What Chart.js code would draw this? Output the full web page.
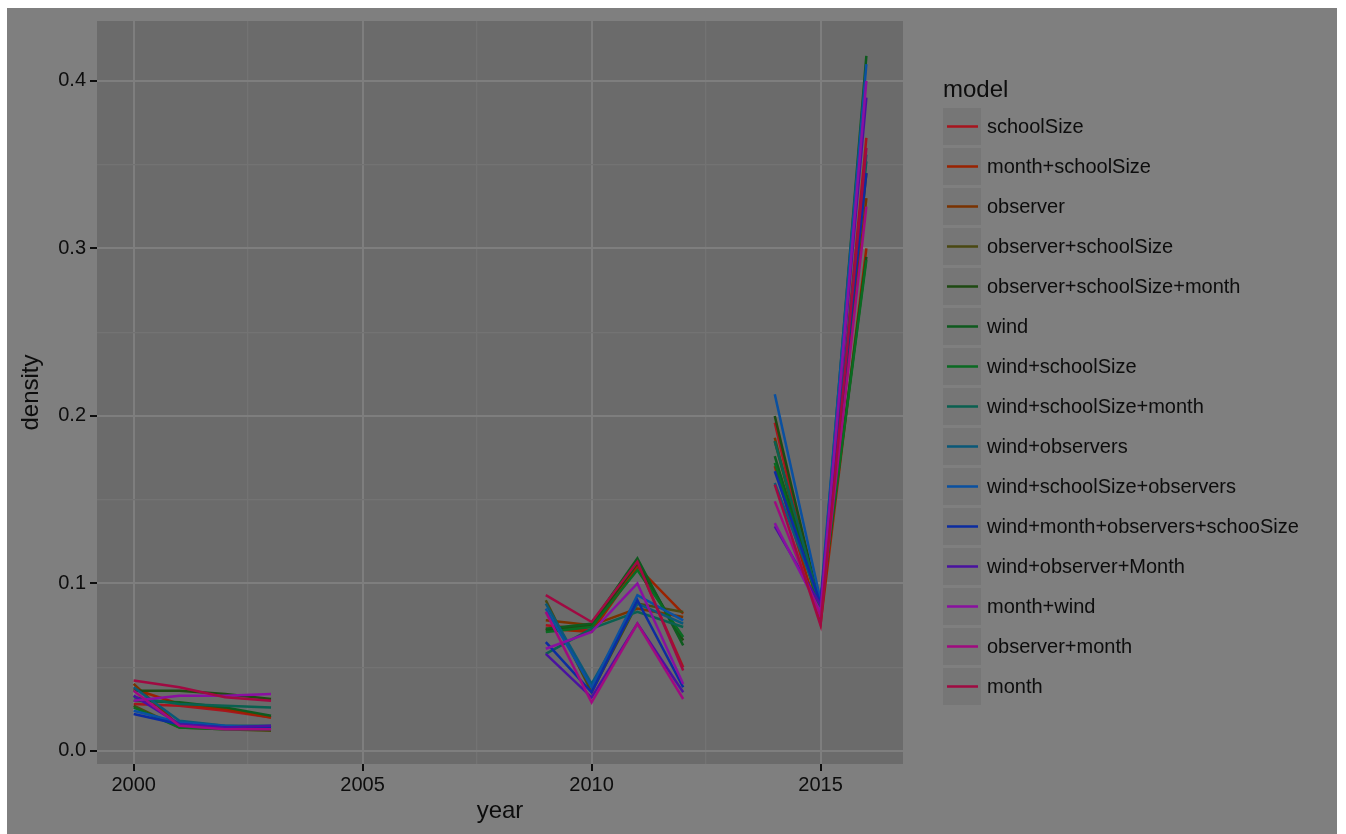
<!DOCTYPE html>
<html>
<head>
<meta charset="utf-8">
<script src="https://cdn.jsdelivr.net/npm/chart.js@4/dist/chart.umd.min.js"></script>
<style>
  html, body { margin: 0; padding: 0; background: #ffffff; }
  #wrap { position: absolute; left: 7px; top: 8px; width: 1330px; height: 826px; background: #7f7f7f; }
  canvas { display: block; }
</style>
</head>
<body>
<div id="wrap"><canvas id="densityChart" width="1330" height="826"></canvas></div>
<script>
// years that were surveyed (gaps in between are left open)
const years = [2000, 2001, 2002, 2003, 2009, 2010, 2011, 2012, 2014, 2015, 2016];

const models = [
  'schoolSize', 'month+schoolSize', 'observer', 'observer+schoolSize',
  'observer+schoolSize+month', 'wind', 'wind+schoolSize', 'wind+schoolSize+month',
  'wind+observers', 'wind+schoolSize+observers', 'wind+month+observers+schooSize',
  'wind+observer+Month', 'month+wind', 'observer+month', 'month'
];

// density per model, one value per entry of years
const density = [
  [0.028, 0.027, 0.024, 0.020, 0.075, 0.072, 0.112, 0.050, 0.196, 0.078, 0.366],
  [0.037, 0.028, 0.025, 0.020, 0.073, 0.071, 0.110, 0.082, 0.170, 0.076, 0.300],
  [0.040, 0.015, 0.014, 0.013, 0.078, 0.075, 0.085, 0.080, 0.187, 0.080, 0.330],
  [0.027, 0.014, 0.013, 0.012, 0.090, 0.035, 0.088, 0.083, 0.185, 0.082, 0.345],
  [0.036, 0.036, 0.034, 0.031, 0.072, 0.075, 0.112, 0.066, 0.200, 0.085, 0.295],
  [0.030, 0.029, 0.026, 0.021, 0.073, 0.076, 0.115, 0.063, 0.176, 0.086, 0.415],
  [0.026, 0.014, 0.013, 0.013, 0.071, 0.074, 0.108, 0.068, 0.172, 0.084, 0.293],
  [0.032, 0.028, 0.027, 0.026, 0.058, 0.073, 0.083, 0.074, 0.185, 0.087, 0.352],
  [0.038, 0.018, 0.015, 0.015, 0.088, 0.040, 0.088, 0.076, 0.160, 0.088, 0.356],
  [0.024, 0.017, 0.015, 0.014, 0.085, 0.038, 0.093, 0.078, 0.213, 0.090, 0.410],
  [0.022, 0.016, 0.014, 0.014, 0.065, 0.035, 0.090, 0.038, 0.167, 0.088, 0.345],
  [0.033, 0.016, 0.014, 0.015, 0.058, 0.032, 0.076, 0.035, 0.134, 0.087, 0.390],
  [0.030, 0.033, 0.033, 0.034, 0.061, 0.071, 0.100, 0.040, 0.136, 0.083, 0.400],
  [0.036, 0.015, 0.013, 0.013, 0.083, 0.029, 0.076, 0.031, 0.149, 0.080, 0.325],
  [0.042, 0.038, 0.032, 0.030, 0.093, 0.077, 0.113, 0.048, 0.159, 0.075, 0.360]
];

// tick positions
const xMajor = [2000, 2005, 2010, 2015];
const xMinor = [2002.5, 2007.5, 2012.5];
const yMajor = [0, 0.1, 0.2, 0.3, 0.4];
const yMinor = [0.05, 0.15, 0.25, 0.35];

// dimmed hue palette
const palette = [
  '#a8141e', '#9a2200', '#7a3200', '#4a4812', '#1e4a12', '#0e5a1e', '#0a6a22', '#0a6050',
  '#0a5878', '#0a50a0', '#0c2ca0', '#4a12a0', '#8a10a0', '#a00a80', '#a00a42'
];

const textColor = '#0d0d0d';
const panelColor = '#6b6b6b';
const majorGrid = '#7e7e7e';
const minorGrid = '#737373';

const datasets = models.map((name, i) => ({
  label: name,
  data: years.map((yr, j) => ({ x: yr, y: density[i][j] })),
  borderColor: palette[i],
  backgroundColor: palette[i],
  borderWidth: 2.5,
  pointRadius: 0,
  tension: 0,
  order: models.length - i,
  segment: {
    // don't join across years that were not surveyed
    borderColor: ctx => (ctx.p1.parsed.x - ctx.p0.parsed.x > 1 ? 'rgba(0,0,0,0)' : undefined)
  }
}));

const panelBg = {
  id: 'panelBg',
  beforeDraw(chart) {
    const a = chart.chartArea;
    const c = chart.ctx;
    c.save();
    c.fillStyle = panelColor;
    c.fillRect(a.left, a.top, a.right - a.left, a.bottom - a.top);
    c.restore();
  }
};

// ggplot style legend on the right
const modelLegend = {
  id: 'modelLegend',
  afterDraw(chart) {
    const c = chart.ctx;
    const left = chart.chartArea.right + 40;
    c.save();
    c.fillStyle = textColor;
    c.font = '24px "Liberation Sans", Arial, sans-serif';
    c.textBaseline = 'alphabetic';
    c.fillText('model', left, 89);
    c.font = '20px "Liberation Sans", Arial, sans-serif';
    c.textBaseline = 'middle';
    chart.data.datasets.forEach((ds, i) => {
      const top = 100 + i * 40;
      c.fillStyle = '#767676';
      c.fillRect(left, top, 38, 37);
      c.strokeStyle = ds.borderColor;
      c.lineWidth = 2.5;
      c.beginPath();
      c.moveTo(left + 4, top + 18.5);
      c.lineTo(left + 35, top + 18.5);
      c.stroke();
      c.fillStyle = textColor;
      c.fillText(ds.label, left + 44, top + 19.5);
    });
    c.restore();
  }
};

const isMajorX = v => xMajor.includes(v);
const isMajorY = v => yMajor.includes(v);

const noPad = s => { s.paddingTop = 0; s.paddingBottom = 0; s.paddingLeft = 0; s.paddingRight = 0; };

new Chart(document.getElementById('densityChart'), {
  type: 'line',
  data: { datasets: datasets },
  plugins: [panelBg, modelLegend],
  options: {
    responsive: false,
    animation: false,
    layout: { padding: { left: 0, top: 13, right: 434, bottom: 0 } },
    plugins: { legend: { display: false }, tooltip: { enabled: false } },
    scales: {
      x: {
        type: 'linear',
        min: 1999.2,
        max: 2016.8,
        afterBuildTicks: s => { s.ticks = xMajor.concat(xMinor).sort((a, b) => a - b).map(v => ({ value: v })); },
        afterFit: s => { s.height = 70; noPad(s); },
        border: { display: false },
        grid: {
          color: ctx => (isMajorX(ctx.tick.value) ? majorGrid : minorGrid),
          lineWidth: ctx => (isMajorX(ctx.tick.value) ? 2 : 1.3),
          tickColor: ctx => (isMajorX(ctx.tick.value) ? textColor : 'rgba(0,0,0,0)'),
          tickWidth: 2,
          tickLength: 7
        },
        ticks: {
          autoSkip: false,
          maxRotation: 0,
          padding: 2,
          color: textColor,
          font: { family: '"Liberation Sans", Arial, sans-serif', size: 20 },
          callback: v => (isMajorX(v) ? String(v) : '')
        },
        title: {
          display: true,
          text: 'year',
          color: textColor,
          font: { family: '"Liberation Sans", Arial, sans-serif', size: 24 },
          padding: { top: 0, bottom: 8 }
        }
      },
      y: {
        type: 'linear',
        min: -0.0078,
        max: 0.4358,
        afterBuildTicks: s => { s.ticks = yMajor.concat(yMinor).sort((a, b) => a - b).map(v => ({ value: v })); },
        afterFit: s => { s.width = 90; noPad(s); },
        border: { display: false },
        grid: {
          color: ctx => (isMajorY(ctx.tick.value) ? majorGrid : minorGrid),
          lineWidth: ctx => (isMajorY(ctx.tick.value) ? 2 : 1.3),
          tickColor: ctx => (isMajorY(ctx.tick.value) ? textColor : 'rgba(0,0,0,0)'),
          tickWidth: 2,
          tickLength: 7
        },
        ticks: {
          autoSkip: false,
          padding: 4,
          color: textColor,
          font: { family: '"Liberation Sans", Arial, sans-serif', size: 20 },
          callback: v => (isMajorY(v) ? v.toFixed(1) : '')
        },
        title: {
          display: true,
          text: 'density',
          color: textColor,
          font: { family: '"Liberation Sans", Arial, sans-serif', size: 24 },
          padding: { top: 10, bottom: 0 }
        }
      }
    }
  }
});
</script>
</body>
</html>
